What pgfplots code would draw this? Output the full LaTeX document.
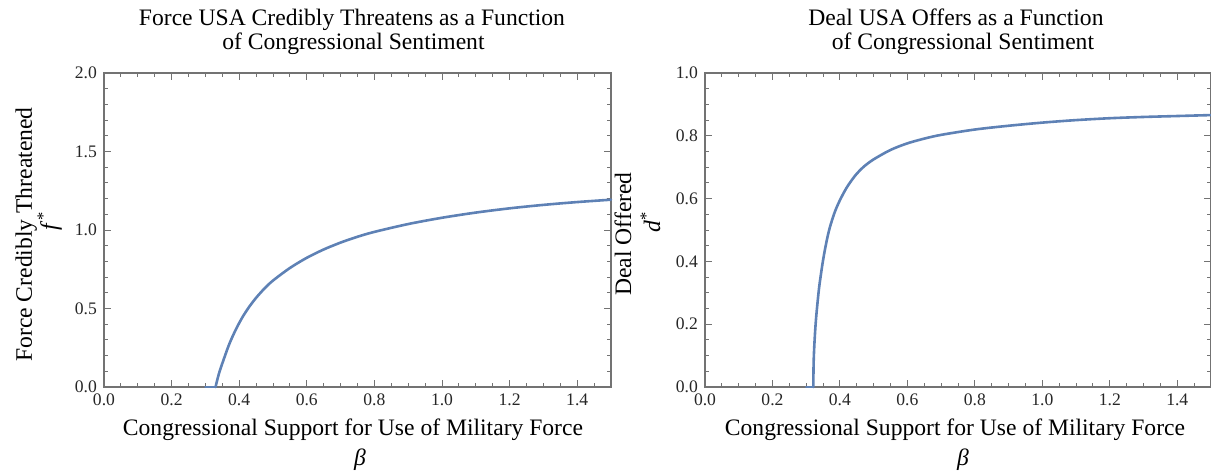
\documentclass[border=0pt]{standalone}
\usepackage{fontspec}
\setmainfont{Liberation Serif}
\usepackage{pgfplots}
\pgfplotsset{compat=1.18}

\definecolor{curveblue}{RGB}{94,129,181}
\definecolor{framegray}{gray}{0.45}
\newcommand\lblfont{\fontsize{11.8}{14}\selectfont}

\pgfplotsset{
  frameplot/.style={
    scale only axis,
    height=157pt,
    xmin=0, xmax=1.5,
    clip=false,
    axis line style={framegray, line width=0.6pt},
    every tick/.style={framegray, line width=0.5pt},
    tick align=inside,
    tick pos=both,
    xticklabel pos=lower,
    yticklabel pos=left,
    major tick length=3.5pt,
    minor tick length=2pt,
    xtick={0,0.2,0.4,0.6,0.8,1.0,1.2,1.4},
    minor xtick={0.05,0.1,0.15,0.25,0.3,0.35,0.45,0.5,0.55,0.65,0.7,0.75,0.85,0.9,0.95,1.05,1.1,1.15,1.25,1.3,1.35,1.45},
    tick label style={font=\fontsize{8.8}{10}\selectfont, text=black!85},
    /pgf/number format/.cd, fixed, fixed zerofill, precision=1, assume math mode=true,
  },
  curve/.style={curveblue, line width=1.3pt, line join=round, line cap=round},
}

\begin{document}
\begin{tikzpicture}
% force threatened
\begin{axis}[frameplot, width=253.5pt,
  ymin=0, ymax=2,
  ytick={0,0.5,1.0,1.5,2.0},
  minor ytick={0.1,0.2,0.3,0.4,0.6,0.7,0.8,0.9,1.1,1.2,1.3,1.4,1.6,1.7,1.8,1.9}]
\addplot[curve] coordinates {(0.300,0) (0.330,0)};
\addplot[curve, smooth, tension=0.5] coordinates {
  (0.330,0) (0.340,0.085) (0.350,0.150) (0.370,0.270) (0.390,0.366)
  (0.410,0.446) (0.430,0.512) (0.450,0.568) (0.475,0.628) (0.500,0.678)
  (0.550,0.758) (0.600,0.823) (0.650,0.876) (0.700,0.920) (0.750,0.957)
  (0.800,0.988) (0.900,1.038) (1.000,1.078) (1.100,1.111) (1.200,1.138)
  (1.300,1.160) (1.400,1.178) (1.500,1.193)};
\end{axis}
% deal offered
\begin{axis}[frameplot, width=253pt, at={(300.5pt,0pt)},
  ymin=0, ymax=1,
  ytick={0,0.2,0.4,0.6,0.8,1.0},
  minor ytick={0.05,0.1,0.15,0.25,0.3,0.35,0.45,0.5,0.55,0.65,0.7,0.75,0.85,0.9,0.95}]
\addplot[curve] coordinates {(0.300,0) (0.321,0)};
\addplot[curve, smooth, tension=0.5] coordinates {
  (0.321,0) (0.322,0.076) (0.324,0.131) (0.327,0.186) (0.330,0.228)
  (0.335,0.284) (0.340,0.331) (0.350,0.404) (0.360,0.462) (0.370,0.508)
  (0.385,0.558) (0.400,0.595) (0.420,0.635) (0.445,0.673) (0.470,0.701)
  (0.500,0.725) (0.550,0.755) (0.600,0.776) (0.650,0.791) (0.700,0.803)
  (0.800,0.820) (0.900,0.832) (1.000,0.842) (1.100,0.850) (1.200,0.856)
  (1.300,0.860) (1.400,0.863) (1.500,0.866)};
\end{axis}

% titles
\node[anchor=base, font=\lblfont] at (124pt,180.65pt) {Force USA Credibly Threatens as a Function};
\node[anchor=base, font=\lblfont] at (124.75pt,168.9pt) {of Congressional Sentiment};
\node[anchor=base, font=\lblfont] at (426pt,180.65pt) {Deal USA Offers as a Function};
\node[anchor=base, font=\lblfont] at (429.5pt,168.9pt) {of Congressional Sentiment};
% x labels
\node[anchor=base, font=\lblfont] at (124.5pt,-24pt) {Congressional Support for Use of Military Force};
\node[anchor=base, font=\lblfont] at (128pt,-39pt) {\textit{β}};
\node[anchor=base, font=\lblfont] at (425.5pt,-24pt) {Congressional Support for Use of Military Force};
\node[anchor=base, font=\lblfont] at (429.5pt,-39pt) {\textit{β}};
% y labels
\node[anchor=base, rotate=90, font=\lblfont] at (-36pt,76.25pt) {Force Credibly Threatened};
\node[anchor=base, rotate=90, font=\lblfont] at (-23.5pt,83pt) {\textit{f}\textsuperscript{*}};
\node[anchor=base, rotate=90, font=\lblfont] at (263.5pt,76.5pt) {Deal Offered};
\node[anchor=base, rotate=90, font=\lblfont] at (278pt,82.5pt) {\textit{d}\textsuperscript{*}};

\pgfresetboundingbox
\useasboundingbox (-52pt,-43pt) rectangle (553.5pt,193.5pt);
\end{tikzpicture}
\end{document}
